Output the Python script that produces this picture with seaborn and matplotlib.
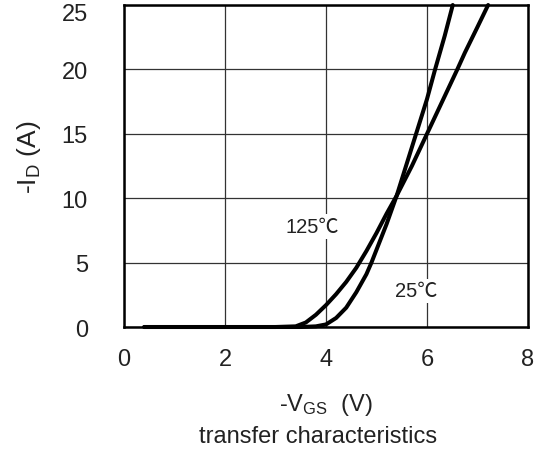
import numpy as np
import pandas as pd
import matplotlib
matplotlib.use("Agg")
import matplotlib.pyplot as plt
import matplotlib.transforms as mtransforms
import seaborn as sns

# -VGS (V) / -ID (A)
vgs_25 = [0.4, 2.0, 3.5, 3.8, 4.0, 4.2, 4.4, 4.6, 4.8, 4.9, 5.0, 5.2, 5.4, 5.6, 5.8, 6.0, 6.16, 6.35, 6.51]
id_25 = [0.0, 0.0, 0.0, 0.05, 0.2, 0.7, 1.5, 2.7, 4.1, 5.0, 6.0, 8.0, 10.2, 12.7, 15.2, 17.7, 20.0, 22.6, 25.0]

vgs_125 = [0.4, 2.0, 3.0, 3.4, 3.6, 3.8, 4.0, 4.2, 4.4, 4.6, 4.8, 5.0, 5.2, 5.4, 5.7, 6.0, 6.3, 6.6, 6.75, 7.0, 7.21]
id_125 = [0.0, 0.0, 0.0, 0.05, 0.35, 0.95, 1.7, 2.55, 3.5, 4.6, 5.9, 7.3, 8.8, 10.2, 12.5, 15.0, 17.5, 20.0, 21.3, 23.3, 25.0]

temps = ["25℃", "125℃"]
x_ticks = [0, 2, 4, 6, 8]
y_ticks = [0, 5, 10, 15, 20, 25]

df = pd.concat([
    pd.DataFrame({"vgs": vgs_25, "id": id_25, "temp": temps[0]}),
    pd.DataFrame({"vgs": vgs_125, "id": id_125, "temp": temps[1]}),
])

sns.set_style("white")
plt.rcParams['font.family'] = ['Liberation Sans', 'Noto Sans CJK SC', 'DejaVu Sans']
plt.rcParams['mathtext.default'] = 'regular'

fig = plt.figure(figsize=(5.41, 4.56), dpi=100)
ax = fig.add_axes([0.2292, 0.2807, 0.7468, 0.7061])

ax.set_xlim(0, 8)
ax.set_ylim(0, 25)
ax.set_xticks(x_ticks)
ax.set_yticks(y_ticks)
ax.grid(True, color='#333333', linewidth=0.9)
ax.set_axisbelow(True)

sns.lineplot(data=df, x="vgs", y="id", hue="temp", palette=["black", "black"],
             sort=False, estimator=None, legend=False, linewidth=2.9, ax=ax, clip_on=False)

for s in ax.spines.values():
    s.set_visible(True)
    s.set_color('black')
    s.set_linewidth(1.8)

ax.tick_params(axis='both', length=0, labelsize=17, labelcolor='#222222')
ax.tick_params(axis='y', pad=26)
ax.tick_params(axis='x', pad=15)

# top tick label sits a little lower so it stays inside the figure
top_lbl = ax.get_yticklabels()[-1]
top_lbl.set_transform(top_lbl.get_transform() +
                      mtransforms.ScaledTranslation(0, -0.06, fig.dpi_scale_trans))

ax.set_xlabel("-V$_{GS}$  (V)", fontsize=17, color='#222222')
ax.xaxis.set_label_coords(0.5, -0.2)
ax.text(0.48, -0.3385, "transfer characteristics", transform=ax.transAxes,
        fontsize=17, color='#222222', ha='center', va='center')
ax.set_ylabel("-I$_D$ (A)", fontsize=19, color='#222222')
ax.yaxis.set_label_coords(-0.2, 0.53)

box = dict(facecolor='white', edgecolor='none', pad=2)
ax.text(3.72, 7.8, temps[1], fontsize=14.5, color='#222222', ha='center', va='center', bbox=box)
ax.text(5.78, 2.8, temps[0], fontsize=14.5, color='#222222', ha='center', va='center', bbox=box)

fig.savefig("out.png", dpi=100)
